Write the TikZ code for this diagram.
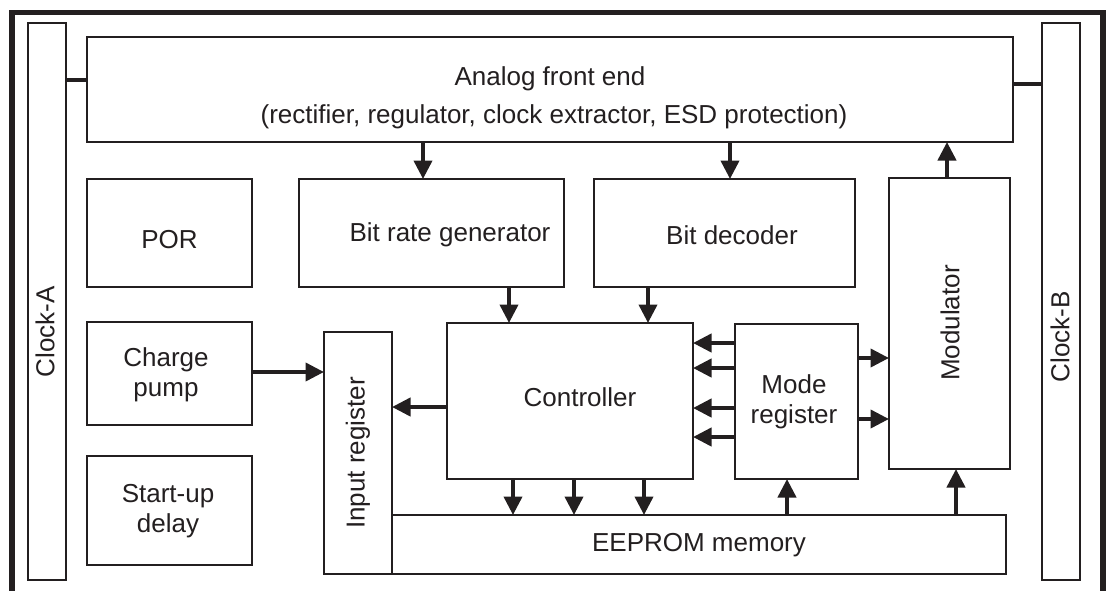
\documentclass[tikz,border=0pt]{standalone}
\usepackage{fontspec}
\setmainfont{Liberation Sans}
\usetikzlibrary{arrows.meta}
\definecolor{ink}{RGB}{35,31,32}
\tikzset{
  box/.style={draw=ink, line width=2.6pt, rectangle, inner sep=0pt, outer sep=0pt, fill=white},
  txt/.style={text=ink, inner sep=0pt, font=\fontsize{26}{30}\selectfont, align=center},
  conn/.style={draw=ink, line width=4pt},
  arr/.style={draw=ink, line width=4pt, -{Triangle[length=18.5pt,width=18pt]}},
  frame/.style={draw=ink, line width=5.5pt}
}
\begin{document}
\begin{tikzpicture}[x=1pt,y=-1pt]
\useasboundingbox (0,0) rectangle (1109,590);
\draw[frame] (12,592) -- (12,12.5) -- (1103,12.5) -- (1103,592);
% boxes
\node[box, minimum width=38pt, minimum height=557pt] (clockA) at (47,301.5) {};
\node[box, minimum width=38pt, minimum height=557pt] (clockB) at (1061,301.5) {};
\node[box, minimum width=926pt, minimum height=105pt] (afe) at (550,89.5) {};
\node[box, minimum width=165pt, minimum height=108pt] (por) at (169.5,233) {};
\node[box, minimum width=265pt, minimum height=108pt] (brg) at (431.5,233) {};
\node[box, minimum width=261pt, minimum height=108pt] (bd) at (724.5,233) {};
\node[box, minimum width=121pt, minimum height=291pt] (mod) at (949.5,323.5) {};
\node[box, minimum width=165pt, minimum height=103pt] (cp) at (169.5,373.5) {};
\node[box, minimum width=165pt, minimum height=109pt] (sud) at (169.5,510.5) {};
\node[box, minimum width=68pt, minimum height=242pt] (inreg) at (358,453) {};
\node[box, minimum width=614pt, minimum height=59pt] (eeprom) at (699,544.5) {};
\node[box, minimum width=246pt, minimum height=156pt] (ctrl) at (570,401) {};
\node[box, minimum width=123pt, minimum height=155pt] (modreg) at (796.5,401.5) {};
% texts
\node[txt] (tafe1) at (550,79) {Analog front end};
\node[txt] (tafe2) at (554,117) {(rectifier, regulator, clock extractor, ESD protection)};
\node[txt] (tpor) at (169.5,240) {POR};
\node[txt] (tbrg) at (450,235) {Bit rate generator};
\node[txt] (tbd) at (732,235) {Bit decoder};
\node[txt] (tcp) at (166,375) {Charge\\pump};
\node[txt] (tsud) at (168,511.5) {Start-up\\delay};
\node[txt] (tctrl) at (580,397) {Controller};
\node[txt] (tmodreg) at (794,402) {Mode\\register};
\node[txt] (teeprom) at (699,545) {EEPROM memory};
\node[txt, rotate=90] (tinreg) at (358,453) {Input register};
\node[txt, rotate=90] (tmod) at (950,323) {Modulator};
\node[txt, rotate=90] (tclockA) at (45,332) {Clock-A};
\node[txt, rotate=90] (tclockB) at (1060,337) {Clock-B};
% connectors
\draw[conn] (clockA.east |- 0,80) -- (afe.west |- 0,80);
\draw[conn] (afe.east |- 0,84) -- (clockB.west |- 0,84);
\draw[arr] (afe.south -| 423,0) -- (brg.north -| 423,0);
\draw[arr] (afe.south -| 730,0) -- (bd.north -| 730,0);
\draw[arr] (mod.north -| 947,0) -- (afe.south -| 947,0);
\draw[arr] (brg.south -| 509,0) -- (ctrl.north -| 509,0);
\draw[arr] (bd.south -| 648,0) -- (ctrl.north -| 648,0);
\draw[arr] (ctrl.south -| 513,0) -- (eeprom.north -| 513,0);
\draw[arr] (ctrl.south -| 574,0) -- (eeprom.north -| 574,0);
\draw[arr] (ctrl.south -| 644,0) -- (eeprom.north -| 644,0);
\draw[arr] (eeprom.north -| 787,0) -- (modreg.south -| 787,0);
\draw[arr] (eeprom.north -| 956,0) -- (mod.south -| 956,0);
\draw[arr] (modreg.west |- 0,343) -- (ctrl.east |- 0,343);
\draw[arr] (modreg.west |- 0,368) -- (ctrl.east |- 0,368);
\draw[arr] (modreg.west |- 0,408) -- (ctrl.east |- 0,408);
\draw[arr] (modreg.west |- 0,437) -- (ctrl.east |- 0,437);
\draw[arr] (modreg.east |- 0,358) -- (mod.west |- 0,358);
\draw[arr] (modreg.east |- 0,419) -- (mod.west |- 0,419);
\draw[arr] (ctrl.west |- 0,407) -- (inreg.east |- 0,407);
\draw[arr] (cp.east |- 0,372) -- (inreg.west |- 0,372);
\end{tikzpicture}
\end{document}
